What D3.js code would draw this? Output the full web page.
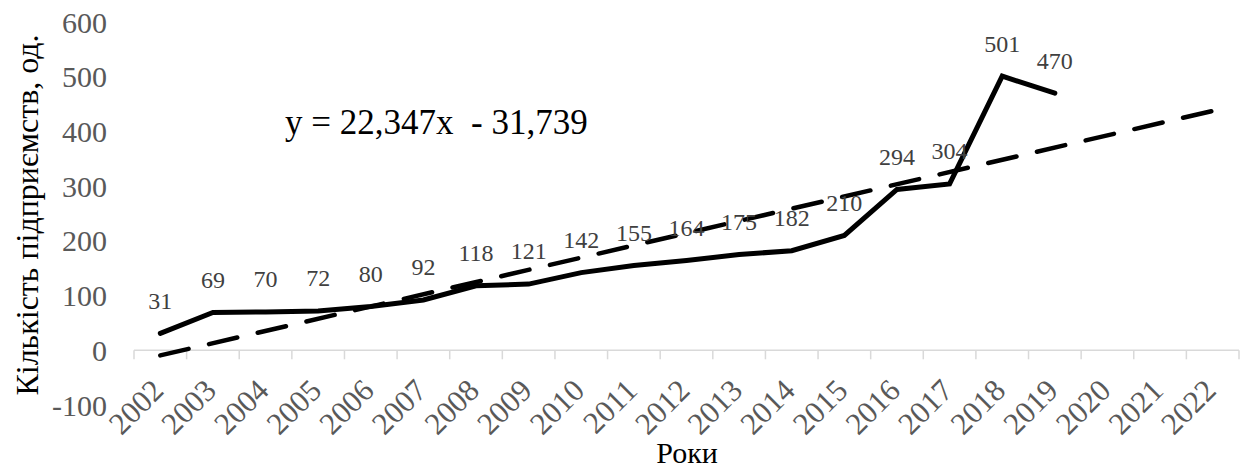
<!DOCTYPE html>
<html>
<head>
<meta charset="utf-8">
<script src="https://cdn.jsdelivr.net/npm/d3@7"></script>
<style>
  body { margin: 0; background: #fff; }
  text { font-family: "Liberation Serif", "Times New Roman", serif; }
</style>
</head>
<body>
<div id="chart"></div>
<script>
// Years on the category axis (trend runs to 2022)
const years = d3.range(2002, 2023).map(String);
// Number of enterprises, 2002-2019
const dataYears = ["2002","2003","2004","2005","2006","2007","2008","2009","2010","2011",
                   "2012","2013","2014","2015","2016","2017","2018","2019"];
const counts = [31, 69, 70, 72, 80, 92, 118, 121, 142, 155, 164, 175, 182, 210, 294, 304, 501, 470];
const yTicks = [-100, 0, 100, 200, 300, 400, 500, 600];
// Linear trend from the chart: y = 22,347x - 31,739
const trendSlope = 22.347;
const trendIntercept = -31.739;

const W = 1246, H = 470;

const svg = d3.select("#chart")
  .append("svg")
  .attr("width", W)
  .attr("height", H);

const x = d3.scaleBand()
  .domain(years)
  .range([134, 1239]);

const y = d3.scaleLinear()
  .domain([-100, 600])
  .range([405, 22]);

const cx = d => x(d) + x.bandwidth() / 2;

// Y axis labels
svg.append("g")
  .selectAll("text")
  .data(yTicks)
  .enter()
  .append("text")
  .attr("x", 107)
  .attr("y", d => y(d))
  .attr("dy", "0.35em")
  .attr("text-anchor", "end")
  .attr("fill", "#595959")
  .attr("font-size", 30)
  .text(d => d);

// X axis at zero, ticks between categories
const xAxis = svg.append("g");
xAxis.append("line")
  .attr("x1", x.range()[0])
  .attr("x2", x.range()[1])
  .attr("y1", y(0))
  .attr("y2", y(0))
  .attr("stroke", "#d9d9d9")
  .attr("stroke-width", 1.5);

xAxis.selectAll("line.tick")
  .data(years.concat(["end"]))
  .enter()
  .append("line")
  .attr("class", "tick")
  .attr("x1", (d, i) => x.range()[0] + i * x.step())
  .attr("x2", (d, i) => x.range()[0] + i * x.step())
  .attr("y1", y(0))
  .attr("y2", y(0) + 9)
  .attr("stroke", "#d9d9d9")
  .attr("stroke-width", 1.5);

xAxis.selectAll("text")
  .data(years)
  .enter()
  .append("text")
  .attr("transform", d => `translate(${cx(d) + 5},${y(0) + 42}) rotate(-45)`)
  .attr("text-anchor", "end")
  .attr("fill", "#595959")
  .attr("font-size", 31)
  .text(d => d);

// Trend line (dashed)
const trendYears = [years[0], years[years.length - 1]];
svg.append("line")
  .attr("x1", cx(trendYears[0]))
  .attr("y1", y(trendSlope * 1 + trendIntercept))
  .attr("x2", cx(trendYears[1]))
  .attr("y2", y(trendSlope * years.length + trendIntercept))
  .attr("stroke", "#000")
  .attr("stroke-width", 4.5)
  .attr("stroke-linecap", "round")
  .attr("stroke-dasharray", "29,21");

// Data line
const series = dataYears.map((d, i) => ({ year: d, value: counts[i] }));
svg.append("path")
  .datum(series)
  .attr("fill", "none")
  .attr("stroke", "#000")
  .attr("stroke-width", 5)
  .attr("stroke-linejoin", "miter")
  .attr("stroke-linecap", "round")
  .attr("d", d3.line().x(d => cx(d.year)).y(d => y(d.value)));

// Data labels
svg.append("g")
  .selectAll("text")
  .data(series)
  .enter()
  .append("text")
  .attr("x", d => cx(d.year))
  .attr("y", d => y(d.value) - 33)
  .attr("dy", "0.35em")
  .attr("text-anchor", "middle")
  .attr("fill", "#404040")
  .attr("font-size", 24)
  .text(d => d.value);

// Trend equation
svg.append("text")
  .attr("x", 285)
  .attr("y", 134)
  .attr("fill", "#000")
  .attr("font-size", 35)
  .attr("xml:space", "preserve")
  .style("white-space", "pre")
  .text("y = 22,347x  - 31,739");

// Axis titles
svg.append("text")
  .attr("transform", "translate(38,215) rotate(-90)")
  .attr("text-anchor", "middle")
  .attr("fill", "#000")
  .attr("font-size", 32)
  .text("Кількість  підприємств, од.");

svg.append("text")
  .attr("x", 687)
  .attr("y", 463)
  .attr("text-anchor", "middle")
  .attr("fill", "#000")
  .attr("font-size", 30)
  .text("Роки");
</script>
</body>
</html>
